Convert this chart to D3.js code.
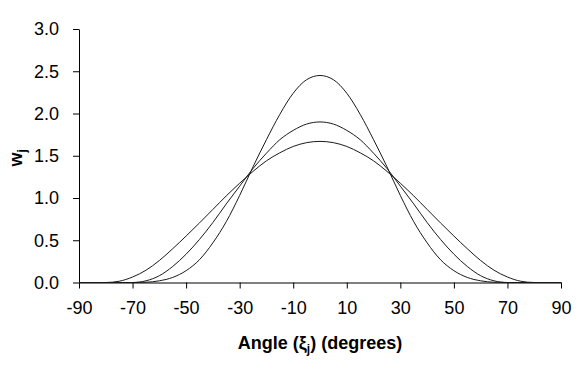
<!DOCTYPE html>
<html>
<head>
<meta charset="utf-8">
<script src="https://cdn.jsdelivr.net/npm/d3@7"></script>
<style>
  html, body { margin: 0; padding: 0; background: #fff; }
  svg { display: block; }
  text { font-family: "Liberation Sans", Arial, sans-serif; fill: #000; }
</style>
</head>
<body>
<svg id="chart" width="582" height="385"></svg>
<script>
// ---- data ----
const angles = [-90,-85,-80,-75,-70,-65,-60,-55,-50,-45,-40,-35,-30,-25,-20,-15,-10,-5,0,
                5,10,15,20,25,30,35,40,45,50,55,60,65,70,75,80,85,90];
const seriesNarrow = [0,0,0,0,0,0.003,0.02,0.06,0.14,0.27,0.47,0.72,1.03,1.37,1.69,1.99,2.24,2.40,2.45,
                      2.40,2.24,1.99,1.69,1.37,1.03,0.72,0.47,0.27,0.14,0.06,0.02,0.003,0,0,0,0,0];
const seriesMiddle = [0,0,0,0,0,0.02,0.08,0.19,0.335,0.51,0.71,0.93,1.14,1.35,1.53,1.69,1.80,1.875,1.90,
                      1.875,1.80,1.69,1.53,1.35,1.14,0.93,0.71,0.51,0.335,0.19,0.08,0.02,0,0,0,0,0];
const seriesWide = [0,0,0,0.015,0.065,0.145,0.26,0.40,0.55,0.705,0.865,1.025,1.175,1.315,1.44,1.535,1.61,1.655,1.67,
                    1.655,1.61,1.535,1.44,1.315,1.175,1.025,0.865,0.705,0.55,0.40,0.26,0.145,0.065,0.015,0,0,0];
const xTicks = [-90,-70,-50,-30,-10,10,30,50,70,90];
const yTicks = [0,0.5,1.0,1.5,2.0,2.5,3.0];

// ---- layout ----
const svg = d3.select("#chart");
const mLeft = 79, mRight = 561, mTop = 29, mBottom = 282.5;

const x = d3.scaleLinear().domain([-90, 90]).range([mLeft, mRight]);
const y = d3.scaleLinear().domain([0, 3]).range([mBottom, mTop]);

const fontSize = 18;

// axes
const gx = svg.append("g").attr("transform", `translate(0,${mBottom})`)
  .call(d3.axisBottom(x).tickValues(xTicks).tickFormat(d3.format("d"))
        .tickSize(6).tickSizeOuter(0).tickPadding(13));
const gy = svg.append("g").attr("transform", `translate(${mLeft},0)`)
  .call(d3.axisLeft(y).tickValues(yTicks).tickFormat(d3.format(".1f"))
        .tickSize(6).tickSizeOuter(0).tickPadding(14));
[gx, gy].forEach(g => {
  g.select(".domain").attr("stroke", "#000").attr("stroke-width", 1);
  g.selectAll(".tick line").attr("stroke", "#000").attr("stroke-width", 1);
  g.selectAll(".tick text").style("font-size", fontSize + "px")
    .style("font-family", "'Liberation Sans', Arial, sans-serif").attr("fill", "#000");
});
gx.selectAll(".tick text").text(d => d < 0 ? "-" + Math.abs(d) : String(d));

// curves
const line = d3.line().x(d => x(d[0])).y(d => y(d[1])).curve(d3.curveMonotoneX);
[seriesNarrow, seriesMiddle, seriesWide].forEach(s => {
  svg.append("path")
    .datum(angles.map((a, i) => [a, s[i]]))
    .attr("fill", "none")
    .attr("stroke", "#1a1a1a")
    .attr("stroke-width", 1)
    .attr("d", line);
});

// axis titles
const xt = svg.append("text")
  .attr("x", (mLeft + mRight) / 2).attr("y", 349)
  .attr("text-anchor", "middle")
  .style("font-size", fontSize + "px").style("font-weight", "bold");
xt.append("tspan").text("Angle (ξ");
xt.append("tspan").attr("dy", 4).style("font-size", "12px").text("j");
xt.append("tspan").attr("dy", -4).text(") (degrees)");

const yt = svg.append("text")
  .attr("transform", `translate(22,${(mTop + mBottom) / 2 + 2}) rotate(-90)`)
  .attr("text-anchor", "middle")
  .style("font-size", fontSize + "px").style("font-weight", "bold");
yt.append("tspan").text("w");
yt.append("tspan").attr("dy", 4).style("font-size", "12px").text("j");
</script>
</body>
</html>
